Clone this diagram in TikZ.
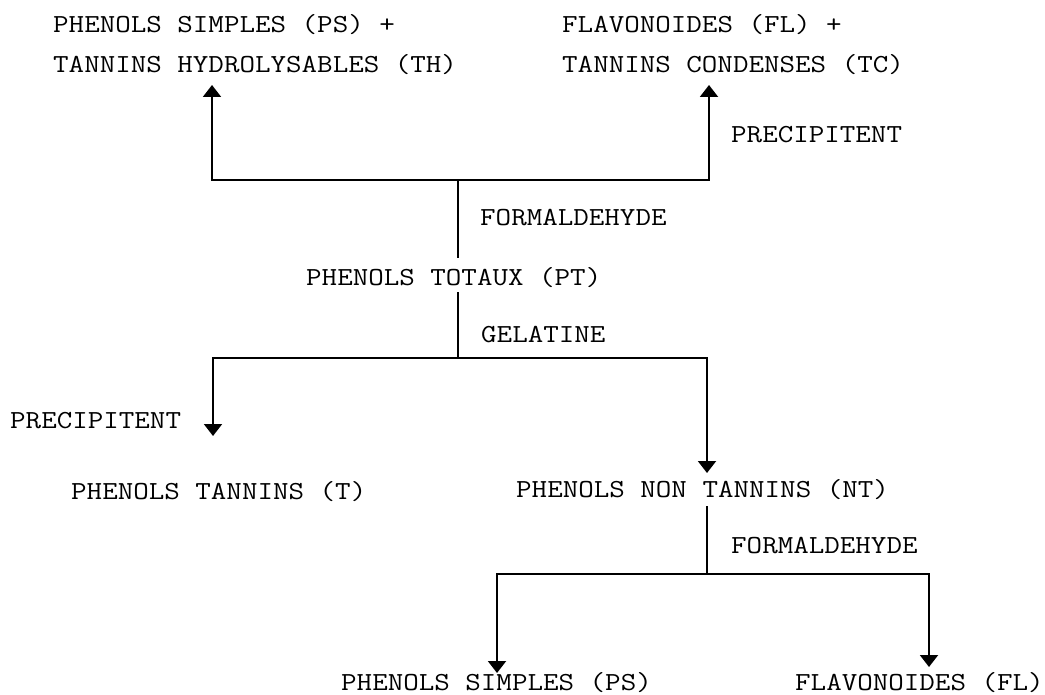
\documentclass[tikz,border=0pt]{standalone}
\usepackage{fontspec}
\newfontfamily\courfont[FakeStretch=1.16]{Latin Modern Mono}
\usetikzlibrary{arrows.meta}
\begin{document}
\begin{tikzpicture}[x=1pt,y=-1pt,
  lbl/.style={anchor=base west, inner sep=0pt, font=\courfont\fontsize{26}{30}\selectfont},
  ln/.style={line width=2pt, line join=miter, line cap=rect},
  arr/.style={ln, -{Triangle[width=18pt,length=12pt]}}]
\useasboundingbox (0,0) rectangle (1045,695);
% labels (baseline = centre + 7.5)
\node[lbl] (ps1)  at (53,32.5)  {PHENOLS SIMPLES (PS) +};
\node[lbl] (th)   at (53,72.5)  {TANNINS HYDROLYSABLES (TH)};
\node[lbl] (fl1)  at (562,32.5) {FLAVONOIDES (FL) +};
\node[lbl] (tc)   at (562,72.5) {TANNINS CONDENSES (TC)};
\node[lbl] (prec1) at (731,142.5) {PRECIPITENT};
\node[lbl] (form1) at (480,225.5) {FORMALDEHYDE};
\node[lbl] (pt)   at (306,285.5) {PHENOLS TOTAUX (PT)};
\node[lbl] (gel)  at (481,342.5) {GELATINE};
\node[lbl] (prec2) at (10,428.5) {PRECIPITENT};
\node[lbl] (tan)  at (71,499.5) {PHENOLS TANNINS (T)};
\node[lbl] (nt)   at (516,497.5) {PHENOLS NON TANNINS (NT)};
\node[lbl] (form2) at (731,553.5) {FORMALDEHYDE};
\node[lbl] (ps2)  at (341,690) {PHENOLS SIMPLES (PS)};
\node[lbl] (fl2)  at (795,690) {FLAVONOIDES (FL)};
% junctions and arrow ends
\coordinate (j1)  at (458,180);
\coordinate (j1b) at (458,257);
\coordinate (tTH) at (212,85);
\coordinate (tTC) at (709,85);
\coordinate (j2a) at (458,293);
\coordinate (j2)  at (458,358);
\coordinate (tT)  at (213,436);
\coordinate (tNT) at (707,473);
\coordinate (j3a) at (707,507);
\coordinate (j3)  at (707,574);
\coordinate (tPS) at (497,673);
\coordinate (tFL) at (929,667);
% connectors
\draw[ln] (j1b) -- (j1);
\draw[arr] (j1) -| (tTH);
\draw[arr] (j1) -| (tTC);
\draw[ln] (j2a) -- (j2);
\draw[arr] (j2) -| (tT);
\draw[arr] (j2) -| (tNT);
\draw[ln] (j3a) -- (j3);
\draw[arr] (j3) -| (tPS);
\draw[arr] (j3) -| (tFL);
\end{tikzpicture}
\end{document}
